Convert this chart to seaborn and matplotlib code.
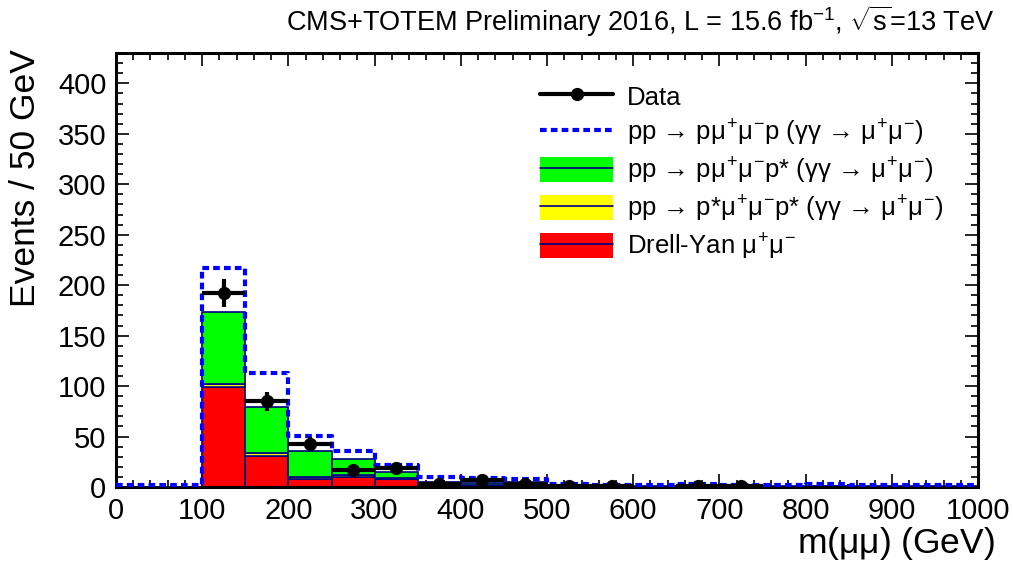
import numpy as np
import pandas as pd
import matplotlib
matplotlib.use("Agg")
import matplotlib.pyplot as plt
from matplotlib.lines import Line2D
from matplotlib.patches import Patch
from matplotlib.ticker import MultipleLocator
from matplotlib.legend_handler import HandlerTuple
import seaborn as sns

# Binning: 50 GeV bins from 0 to 1000 GeV
edges = list(range(0, 1001, 50))
centers = np.array(edges[:-1]) + 25

# Stacked backgrounds (events per bin)
drell_yan = [0, 0, 99, 31, 7.5, 10, 8, 1.5, 1.5, 1.5, 0.3, 0.3, 0.2, 0.2, 0.2, 0.2, 0.4, 0.2, 0.1, 0.1]
pp_pstar_pstar = [0, 0, 3, 3, 2, 1.5, 1, 0.5, 0.5, 0.5, 0.2, 0.1, 0.1, 0.1, 0.1, 0.1, 0.1, 0.1, 0.1, 0.1]
pp_p_pstar = [0, 0, 71, 45, 26, 16, 6, 3, 2, 3, 0.5, 0.4, 0.3, 0.3, 0.3, 0.3, 0.3, 0.3, 0.3, 0.3]

# Exclusive signal pp -> p mu mu p
elastic = [2, 2, 217, 113, 51, 35.5, 22, 10, 9, 8, 3, 2, 2, 3, 2, 2, 3, 2, 2, 2]

# Observed data
data = [0, 0, 192, 85, 43, 17, 19, 3, 7, 3, 1, 1, 0, 1, 1, 0, 0, 0, 0, 0]

proc_names = ["pp_p_pstar", "pp_pstar_pstar", "drell_yan"]
proc_colors = {"pp_p_pstar": "#00ff00", "pp_pstar_pstar": "#ffff00", "drell_yan": "#ff0000"}
line_navy = "#000080"

sns.set_style("ticks")
plt.rcParams["font.family"] = ["Liberation Sans", "DejaVu Sans"]
plt.rcParams["mathtext.fontset"] = "custom"
plt.rcParams["mathtext.rm"] = "Liberation Sans"
plt.rcParams["mathtext.it"] = "Liberation Sans"
plt.rcParams["mathtext.sf"] = "Liberation Sans"
plt.rcParams["mathtext.bf"] = "Liberation Sans:bold"
plt.rcParams["text.color"] = "black"
plt.rcParams["axes.labelcolor"] = "black"

fig = plt.figure(figsize=(10.13, 5.62), dpi=100)
ax = fig.add_axes([0.1145, 0.1335, 0.851, 0.772])

stack_df = pd.DataFrame({
    "mass": np.tile(centers, 3),
    "events": np.concatenate([pp_p_pstar, pp_pstar_pstar, drell_yan]),
    "process": np.repeat(proc_names, len(centers)),
})

sns.histplot(data=stack_df, x="mass", weights="events", hue="process",
             hue_order=proc_names, multiple="stack", bins=edges,
             palette=proc_colors, edgecolor=line_navy, linewidth=1.2,
             alpha=1, legend=False, ax=ax, zorder=2)

elastic_df = pd.DataFrame({"mass": centers, "events": elastic})
sns.histplot(data=elastic_df, x="mass", weights="events", bins=edges,
             element="step", fill=False, color="#0000ff", linewidth=3,
             linestyle=(0, (1.6, 1.0)), ax=ax, zorder=3)

data_arr = np.array(data, dtype=float)
mask = data_arr > 0
ax.errorbar(centers[mask], data_arr[mask], yerr=np.sqrt(data_arr[mask]),
            xerr=25, fmt="o", color="black", ms=8.5, elinewidth=3,
            capsize=0, zorder=4)

ax.set_xlim(0, 1000)
ax.set_ylim(0, 430)
ax.xaxis.set_major_locator(MultipleLocator(100))
ax.xaxis.set_minor_locator(MultipleLocator(20))
ax.yaxis.set_major_locator(MultipleLocator(50))
ax.yaxis.set_minor_locator(MultipleLocator(10))
ax.tick_params(which="both", direction="in", top=True, right=True,
               width=1.2, labelsize=21, colors="black")
ax.tick_params(which="major", length=9.5, pad=7)
ax.tick_params(which="minor", length=4.8)
for sp in ax.spines.values():
    sp.set_linewidth(2.2)
    sp.set_color("black")

ax.set_xlabel(r"m($\mu\mu$) (GeV)", fontsize=25.5, ha="right")
ax.xaxis.set_label_coords(1.02, -0.088)
ax.set_ylabel("Events / 50 GeV", fontsize=25.5, ha="right")
ax.yaxis.set_label_coords(-0.086, 1.01)

fig.text(0.982, 0.962,
         r"CMS+TOTEM Preliminary 2016, L = 15.6 fb$^{-1}$, $\sqrt{s}$=13 TeV",
         ha="right", va="center", fontsize=19.5)

mu_pair = r"$\mu^{+}\mu^{-}$"
handles = [
    Line2D([], [], color="black", lw=3, marker="o", ms=8.5),
    Line2D([], [], color="#0000ff", lw=3, linestyle=(0, (1.6, 1.0))),
    (Patch(facecolor="#00ff00", edgecolor="none"), Line2D([], [], color=line_navy, lw=1.2)),
    (Patch(facecolor="#ffff00", edgecolor="none"), Line2D([], [], color=line_navy, lw=1.2)),
    (Patch(facecolor="#ff0000", edgecolor="none"), Line2D([], [], color=line_navy, lw=1.2)),
]
labels = [
    "Data",
    "pp \u2192 p" + mu_pair + "p (" + r"$\gamma\gamma$" + " \u2192 " + mu_pair + ")",
    "pp \u2192 p" + mu_pair + "p* (" + r"$\gamma\gamma$" + " \u2192 " + mu_pair + ")",
    "pp \u2192 p*" + mu_pair + "p* (" + r"$\gamma\gamma$" + " \u2192 " + mu_pair + ")",
    "Drell-Yan " + mu_pair,
]
fig.legend(handles, labels, loc="upper left", bbox_to_anchor=(0.533, 0.851),
           frameon=False, fontsize=18.5, handlelength=2.85, handleheight=1.1,
           handletextpad=0.55, labelspacing=0.3, borderpad=0, borderaxespad=0,
           handler_map={tuple: HandlerTuple(ndivide=1)})

fig.savefig("out.png", dpi=100, facecolor="white")
